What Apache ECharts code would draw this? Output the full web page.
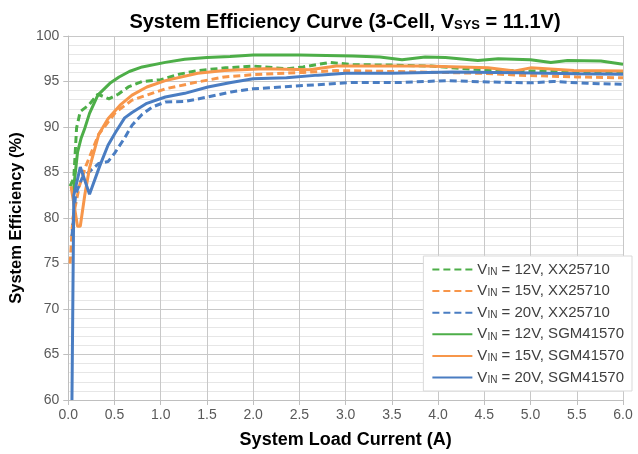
<!DOCTYPE html>
<html>
<head>
<meta charset="utf-8">
<script src="https://cdn.jsdelivr.net/npm/echarts@6/dist/echarts.min.js"></script>
<style>html,body{margin:0;padding:0;background:#fff}#c{width:638px;height:454px}</style>
</head>
<body>
<div id="c"></div>
<script>
// ---- data (load current A, efficiency %) ----
const seriesNames = ['VIN = 12V, XX25710','VIN = 15V, XX25710','VIN = 20V, XX25710','VIN = 12V, SGM41570','VIN = 15V, SGM41570','VIN = 20V, SGM41570'];

const xx12_x = [0.02,0.06,0.09,0.13,0.22,0.32,0.44,0.54,0.65,0.8,1.0,1.2,1.4,1.7,2.0,2.36,2.54,2.83,3.08,3.5,3.93,4.36,4.72,5.08,5.61,6.0];
const xx12_y = [83.5,84.4,89.9,91.7,92.4,93.6,93.1,93.6,94.4,95.0,95.2,95.8,96.2,96.5,96.7,96.4,96.6,97.1,96.85,96.8,96.7,96.35,96.2,96.15,95.95,95.9];

const xx15_x = [0.02,0.05,0.12,0.19,0.33,0.51,0.69,1.05,1.4,1.69,2.0,2.54,2.9,3.5,4.0,4.5,4.86,5.5,6.0];
const xx15_y = [75.0,80.0,83.5,85.7,89.2,91.6,92.95,94.2,94.95,95.5,95.75,96.0,96.2,96.1,96.0,95.9,95.7,95.5,95.4];

const xx20_x = [0.04,0.08,0.15,0.23,0.33,0.43,0.5,0.61,0.69,0.8,0.91,1.05,1.26,1.51,1.76,2.0,2.54,3.08,3.6,4.11,4.54,5.0,5.25,5.61,6.0];
const xx20_y = [78.0,82.6,84.4,85.1,86.0,86.2,87.1,88.8,90.2,91.4,92.2,92.75,92.8,93.3,93.85,94.2,94.55,94.9,94.9,95.1,94.95,94.85,95.0,94.8,94.7];

const sgm12_x = [0.05,0.1,0.14,0.18,0.23,0.32,0.45,0.55,0.66,0.8,1.05,1.26,1.5,1.75,2.0,2.5,3.08,3.37,3.61,3.86,4.08,4.43,4.65,5.0,5.22,5.4,5.76,6.0];
const sgm12_y = [82.5,87.2,88.8,89.9,91.5,93.5,94.8,95.5,96.1,96.6,97.1,97.45,97.65,97.75,97.9,97.9,97.8,97.7,97.4,97.7,97.65,97.3,97.5,97.4,97.1,97.3,97.25,96.9];

const sgm15_x = [0.03,0.1,0.13,0.18,0.23,0.33,0.43,0.56,0.69,0.85,1.05,1.4,1.69,2.12,2.61,2.9,3.5,3.85,4.54,4.83,5.0,5.47,6.0];
const sgm15_y = [83.5,79.1,79.1,82.6,85.5,89.2,90.9,92.4,93.5,94.4,95.1,95.9,96.2,96.4,96.3,96.7,96.7,96.7,96.5,96.15,96.5,96.2,96.15];

const sgm20_x = [0.04,0.06,0.13,0.23,0.34,0.43,0.51,0.61,0.69,0.85,1.05,1.26,1.51,1.76,2.0,2.36,2.7,3.0,3.5,4.15,4.86,5.5,6.0];
const sgm20_y = [60.0,82.5,85.6,82.6,85.7,88.0,89.4,91.0,91.6,92.6,93.3,93.7,94.4,94.9,95.3,95.4,95.7,95.9,95.9,96.05,95.95,95.85,95.8];

const xTicks = {min:0, max:6, step:0.5};
const yTicks = {min:60, max:100, step:5};

function zip(xs, ys){ return xs.map((x,i)=>[x, ys[i]]); }

const GREEN = '#4DAE48', ORANGE = '#F7964A', BLUE = '#4A7DC2';
const FONT = '"Liberation Sans", Arial, sans-serif';

const seriesDefs = [
  [xx12_x, xx12_y, GREEN, 'dashed'],
  [xx15_x, xx15_y, ORANGE, 'dashed'],
  [xx20_x, xx20_y, BLUE, 'dashed'],
  [sgm12_x, sgm12_y, GREEN, 'solid'],
  [sgm15_x, sgm15_y, ORANGE, 'solid'],
  [sgm20_x, sgm20_y, BLUE, 'solid']
];

const series = seriesDefs.map((d, i) => ({
  name: seriesNames[i],
  type: 'line',
  data: zip(d[0], d[1]),
  showSymbol: false,
  symbol: 'none',
  color: d[2],
  z: d[3] === 'solid' ? 3 : 2,
  lineStyle: { color: d[2], width: 3, type: d[3] === 'dashed' ? [7, 4] : 'solid' },
  emphasis: { disabled: true }
}));

const chart = echarts.init(document.getElementById('c'), null, {renderer: 'canvas'});
chart.setOption({
  animation: false,
  backgroundColor: '#fff',
  title: {
    text: '{b|System Efficiency Curve (3-Cell, V}{s|SYS}{b| = 11.1V)}',
    left: 340, top: 1, textAlign: 'center',
    textStyle: {
      rich: {
        b: { fontFamily: FONT, fontSize: 20, fontWeight: 'bold', color: '#000', lineHeight: 26, verticalAlign: 'bottom' },
        s: { fontFamily: FONT, fontSize: 13, fontWeight: 'bold', color: '#000', lineHeight: 21, verticalAlign: 'bottom' }
      }
    }
  },
  grid: { left: 63, right: 15, top: 36, bottom: 53, containLabel: false },
  legend: {
    orient: 'vertical',
    right: 6, top: 256,
    itemWidth: 40, itemHeight: 3, itemGap: 6.6,
    padding: [6, 8, 6, 8],
    backgroundColor: '#fff',
    borderColor: '#d9d9d9', borderWidth: 1,
    itemStyle: { opacity: 0 },
    formatter: function(name){ return '{v|V}{s|IN}{v|' + name.slice(3) + '}'; },
    textStyle: {
      rich: {
        v: { fontFamily: FONT, fontSize: 15, color: '#404040', lineHeight: 15, verticalAlign: 'bottom' },
        s: { fontFamily: FONT, fontSize: 10, color: '#404040', lineHeight: 12, verticalAlign: 'bottom' }
      }
    },
    data: seriesNames
  },
  xAxis: {
    type: 'value', min: xTicks.min, max: xTicks.max, interval: xTicks.step,
    name: 'System Load Current (A)', nameLocation: 'middle', nameGap: 31,
    nameTextStyle: { fontFamily: FONT, fontSize: 18, fontWeight: 'bold', color: '#000' },
    axisLine: { show: true, lineStyle: { color: '#bfbfbf', width: 1 } },
    axisTick: { show: true, length: 5, lineStyle: { color: '#bfbfbf' } },
    axisLabel: { fontFamily: FONT, fontSize: 14, color: '#595959', margin: 8, formatter: v => v.toFixed(1) },
    splitLine: { show: true, lineStyle: { color: '#c8c8c8', width: 1 } }
  },
  yAxis: {
    type: 'value', min: yTicks.min, max: yTicks.max, interval: yTicks.step,
    name: 'System Efficiency (%)', nameLocation: 'middle', nameGap: 42,
    nameTextStyle: { fontFamily: FONT, fontSize: 16.5, fontWeight: 'bold', color: '#000' },
    axisLine: { show: true, lineStyle: { color: '#bfbfbf', width: 1 } },
    axisTick: { show: true, length: 5, lineStyle: { color: '#bfbfbf' } },
    axisLabel: { fontFamily: FONT, fontSize: 14, color: '#595959', margin: 9 },
    splitLine: { show: true, lineStyle: { color: '#c8c8c8', width: 1 } },
    minorTick: { show: false, splitNumber: 5 },
    minorSplitLine: { show: true, lineStyle: { color: '#e6e6e6', width: 1 } }
  },
  series: series
});
</script>
</body>
</html>
